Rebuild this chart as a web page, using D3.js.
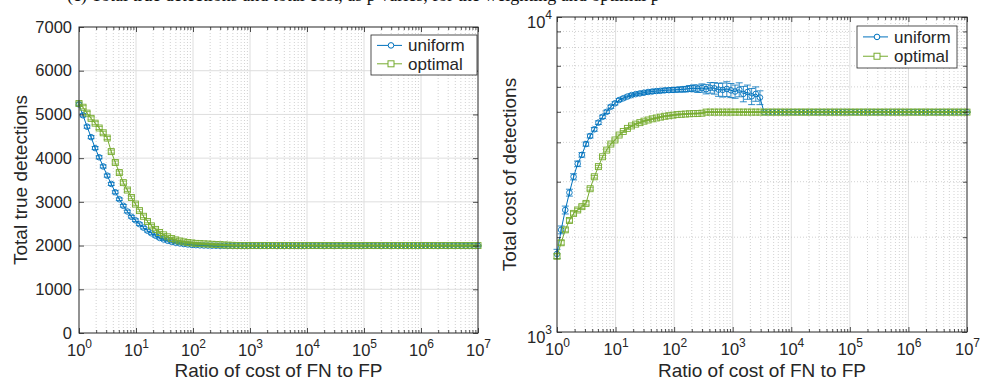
<!DOCTYPE html>
<html>
<head>
<meta charset="utf-8">
<script src="https://cdn.jsdelivr.net/npm/d3@7"></script>
<style>
	body { margin: 0; background: #fff; }
	svg text { font-family: "Liberation Sans", Arial, Helvetica, sans-serif; fill: #262626; }
</style>
</head>
<body>
<div id="graphic"></div>
<script>

// sample grid: 100 log spaced cost ratios from 10^0 to 10^7
const ratioExp = d3.range(100).map((i) => 7 * i / 99);
const ratios = ratioExp.map((e) => Math.pow(10, e));

// left panel - total true detections
const leftUniform = [
	5230, 4980, 4720, 4480, 4230, 4020, 3810, 3600, 3410, 3220,
	3060, 2910, 2780, 2660, 2580, 2490, 2410, 2340, 2280, 2225,
	2175, 2140, 2110, 2085, 2065, 2050, 2035, 2025, 2015, 2010,
	2005, 2002, 2000, 1998, 1997, 1996, 1996, 1995, 1995, 1995,
	1995, 1994, 1996, 1995, 1995, 1994, 1995, 1996, 1995, 1995,
	1994, 1995, 1995, 1996, 1995, 1994, 1995, 1995, 1995, 1996,
	1995, 1995, 1994, 1995, 1995, 1995, 1996, 1995, 1995, 1994,
	1995, 1995, 1995, 1995, 1996, 1995, 1995, 1994, 1995, 1995,
	1995, 1995, 1995, 1996, 1995, 1995, 1995, 1995, 1994, 1995,
	1995, 1995, 1995, 1995, 1995, 1996, 1995, 1995, 1995, 1995
];
const leftOptimal = [
	5250, 5165, 5030, 4910, 4800, 4690, 4580, 4460, 4150, 3900,
	3670, 3440, 3270, 3100, 2950, 2800, 2670, 2550, 2450, 2370,
	2300, 2245, 2200, 2160, 2130, 2105, 2085, 2070, 2060, 2050,
	2045, 2040, 2035, 2030, 2025, 2020, 2015, 2010, 2006, 2003,
	2001, 2000, 2000, 2001, 2000, 2000, 2000, 2001, 2000, 2000,
	2000, 2000, 2001, 2000, 2000, 2000, 2000, 2000, 2001, 2000,
	2000, 2000, 2000, 2000, 2000, 2001, 2000, 2000, 2000, 2000,
	2000, 2000, 2001, 2000, 2000, 2000, 2000, 2000, 2000, 2001,
	2000, 2000, 2000, 2000, 2000, 2000, 2001, 2000, 2000, 2000,
	2000, 2000, 2000, 2000, 2001, 2000, 2000, 2000, 2000, 2000
];
const leftUniformErr = [
	35, 35, 35, 35, 35, 35, 35, 35, 35, 35,
	30, 30, 30, 30, 30, 30, 30, 30, 30, 30,
	25, 25, 25, 25, 25, 20, 20, 20, 20, 20,
	15, 15, 15, 15, 15, 12, 12, 12, 12, 12,
	12, 12, 12, 12, 12, 12, 12, 12, 12, 12,
	12, 12, 12, 12, 12, 12, 12, 12, 12, 12,
	12, 12, 12, 12, 12, 12, 12, 12, 12, 12,
	12, 12, 12, 12, 12, 12, 12, 12, 12, 12,
	12, 12, 12, 12, 12, 12, 12, 12, 12, 12,
	12, 12, 12, 12, 12, 12, 12, 12, 12, 12
];
const leftOptimalErr = [
	35, 35, 35, 35, 35, 35, 35, 35, 35, 35,
	35, 35, 30, 30, 30, 30, 30, 30, 30, 30,
	25, 25, 25, 25, 25, 20, 20, 20, 20, 20,
	15, 15, 15, 15, 15, 12, 12, 12, 12, 12,
	12, 12, 12, 12, 12, 12, 12, 12, 12, 12,
	12, 12, 12, 12, 12, 12, 12, 12, 12, 12,
	12, 12, 12, 12, 12, 12, 12, 12, 12, 12,
	12, 12, 12, 12, 12, 12, 12, 12, 12, 12,
	12, 12, 12, 12, 12, 12, 12, 12, 12, 12,
	12, 12, 12, 12, 12, 12, 12, 12, 12, 12
];

// right panel - total cost of detections
const rightUniform = [
	1770, 2110, 2440, 2770, 3110, 3420, 3650, 3950, 4190, 4400,
	4620, 4820, 5000, 5190, 5320, 5450, 5520, 5590, 5650, 5690,
	5720, 5750, 5780, 5800, 5820, 5830, 5850, 5860, 5870, 5880,
	5890, 5900, 5930, 5940, 5920, 5950, 5900, 5960, 5940, 5880,
	5870, 5910, 5850, 5800, 5880, 5700, 5780, 5600, 5700, 5550,
	4990, 4990, 4990, 4990, 4990, 4990, 4990, 4990, 4990, 4990,
	4990, 4990, 4990, 4990, 4990, 4990, 4990, 4990, 4990, 4990,
	4990, 4990, 4990, 4990, 4990, 4990, 4990, 4990, 4990, 4990,
	4990, 4990, 4990, 4990, 4990, 4990, 4990, 4990, 4990, 4990,
	4990, 4990, 4990, 4990, 4990, 4990, 4990, 4990, 4990, 4990
];
const rightOptimal = [
	1740, 1920, 2110, 2260, 2380, 2440, 2500, 2560, 2850, 3110,
	3350, 3600, 3780, 3950, 4070, 4220, 4330, 4430, 4510, 4570,
	4620, 4670, 4710, 4750, 4780, 4810, 4840, 4860, 4880, 4900,
	4910, 4920, 4930, 4935, 4940, 4950, 4990, 4990, 4990, 4990,
	4990, 4990, 4990, 4990, 4990, 4990, 4990, 4990, 4990, 4990,
	4990, 4990, 4990, 4990, 4990, 4990, 4990, 4990, 4990, 4990,
	4990, 4990, 4990, 4990, 4990, 4990, 4990, 4990, 4990, 4990,
	4990, 4990, 4990, 4990, 4990, 4990, 4990, 4990, 4990, 4990,
	4990, 4990, 4990, 4990, 4990, 4990, 4990, 4990, 4990, 4990,
	4990, 4990, 4990, 4990, 4990, 4990, 4990, 4990, 4990, 4990
];
const rightUniformErr = [
	60, 60, 70, 70, 70, 70, 60, 60, 60, 60,
	60, 60, 60, 60, 60, 60, 60, 60, 60, 60,
	70, 70, 70, 80, 80, 80, 90, 90, 100, 100,
	110, 120, 130, 150, 160, 180, 200, 230, 250, 280,
	300, 320, 300, 280, 300, 320, 300, 330, 300, 280,
	15, 15, 15, 15, 15, 15, 15, 15, 15, 15,
	15, 15, 15, 15, 15, 15, 15, 15, 15, 15,
	15, 15, 15, 15, 15, 15, 15, 15, 15, 15,
	15, 15, 15, 15, 15, 15, 15, 15, 15, 15,
	15, 15, 15, 15, 15, 15, 15, 15, 15, 15
];
const rightOptimalErr = [
	30, 30, 30, 30, 30, 30, 30, 30, 30, 30,
	30, 30, 30, 30, 30, 30, 30, 30, 30, 30,
	20, 20, 20, 20, 20, 20, 20, 20, 20, 20,
	15, 15, 15, 15, 15, 15, 15, 15, 15, 15,
	15, 15, 15, 15, 15, 15, 15, 15, 15, 15,
	15, 15, 15, 15, 15, 15, 15, 15, 15, 15,
	15, 15, 15, 15, 15, 15, 15, 15, 15, 15,
	15, 15, 15, 15, 15, 15, 15, 15, 15, 15,
	15, 15, 15, 15, 15, 15, 15, 15, 15, 15,
	15, 15, 15, 15, 15, 15, 15, 15, 15, 15
];

// tick values
const xDecades = [1, 1e1, 1e2, 1e3, 1e4, 1e5, 1e6, 1e7];
const xMinor = [];
for (let d = 0; d < 7; d++) {
	for (let k = 2; k <= 9; k++) xMinor.push(k * Math.pow(10, d));
}
const leftYTicks = [0, 1000, 2000, 3000, 4000, 5000, 6000, 7000];
const rightYTicks = [1000, 10000];
const rightYMinor = [2000, 3000, 4000, 5000, 6000, 7000, 8000, 9000];

const seriesNames = ['uniform', 'optimal'];
const colours = ['#0072BD', '#77AC30'];

const ink = '#262626';
const svg = d3.select('#graphic').append('svg').attr('width', 981).attr('height', 382);

// caption of the figure above, mostly cut off by the crop (only its lower edge shows)
svg.append('text')
	.attr('x', 67)
	.attr('y', 1)
	.style('font-family', '"Liberation Serif", "Times New Roman", serif')
	.style('font-size', '18px')
	.style('fill', '#111')
	.text('(c) Total true detections and total cost, as p varies, for the weighting and optimal p');

function powerLabels(sel, supDy) {
	sel.each(function (d) {
		const t = d3.select(this).text(null);
		t.append('tspan').text('10');
		t.append('tspan')
			.attr('dy', supDy)
			.style('font-size', '12px')
			.text(Math.round(Math.log10(d)));
	});
}

function drawPanel(p) {

	const x = d3.scaleLog().domain([1, 1e7]).range([p.left, p.right]);
	const y = (p.yType === 'log' ? d3.scaleLog() : d3.scaleLinear())
		.domain(p.yDomain)
		.range([p.bottom, p.top]);

	const g = svg.append('g');

	// grid lines
	g.append('g')
		.selectAll('line')
		.data(xMinor)
		.join('line')
		.attr('x1', (d) => x(d)).attr('x2', (d) => x(d))
		.attr('y1', p.top).attr('y2', p.bottom)
		.attr('stroke', '#bdbdbd')
		.attr('stroke-width', 0.7)
		.attr('stroke-dasharray', '1,2');

	g.append('g')
		.selectAll('line')
		.data(xDecades.slice(1, -1))
		.join('line')
		.attr('x1', (d) => x(d)).attr('x2', (d) => x(d))
		.attr('y1', p.top).attr('y2', p.bottom)
		.attr('stroke', '#dedede')
		.attr('stroke-width', 1);

	if (p.yType === 'log') {
		g.append('g')
			.selectAll('line')
			.data(rightYMinor)
			.join('line')
			.attr('x1', p.left).attr('x2', p.right)
			.attr('y1', (d) => y(d)).attr('y2', (d) => y(d))
			.attr('stroke', '#bdbdbd')
			.attr('stroke-width', 0.7)
			.attr('stroke-dasharray', '1,2');
	} else {
		g.append('g')
			.selectAll('line')
			.data(p.yTicks.slice(1, -1))
			.join('line')
			.attr('x1', p.left).attr('x2', p.right)
			.attr('y1', (d) => y(d)).attr('y2', (d) => y(d))
			.attr('stroke', '#dedede')
			.attr('stroke-width', 1);
	}

	// series, uniform first so optimal sits on top
	p.series.forEach((s, si) => {
		const pts = ratios.map((r, i) => ({ r: r, v: s.values[i], e: s.err[i] }));
		const col = colours[si];
		const sg = g.append('g').attr('stroke', col).attr('fill', 'none');

		// error bars
		const eb = sg.append('g').attr('stroke-width', 0.8);
		eb.selectAll('line.stem')
			.data(pts)
			.join('line')
			.attr('class', 'stem')
			.attr('x1', (d) => x(d.r)).attr('x2', (d) => x(d.r))
			.attr('y1', (d) => y(d.v - d.e)).attr('y2', (d) => y(d.v + d.e));
		eb.selectAll('line.cap-hi')
			.data(pts)
			.join('line')
			.attr('class', 'cap-hi')
			.attr('x1', (d) => x(d.r) - 3.5).attr('x2', (d) => x(d.r) + 3.5)
			.attr('y1', (d) => y(d.v + d.e)).attr('y2', (d) => y(d.v + d.e));
		eb.selectAll('line.cap-lo')
			.data(pts)
			.join('line')
			.attr('class', 'cap-lo')
			.attr('x1', (d) => x(d.r) - 3.5).attr('x2', (d) => x(d.r) + 3.5)
			.attr('y1', (d) => y(d.v - d.e)).attr('y2', (d) => y(d.v - d.e));

		sg.append('path')
			.datum(pts)
			.attr('stroke-width', 1)
			.attr('d', d3.line().x((d) => x(d.r)).y((d) => y(d.v)));

		if (si === 0) {
			sg.selectAll('circle')
				.data(pts)
				.join('circle')
				.attr('cx', (d) => x(d.r))
				.attr('cy', (d) => y(d.v))
				.attr('r', 2.8)
				.attr('stroke-width', 0.9);
		} else {
			sg.selectAll('rect')
				.data(pts)
				.join('rect')
				.attr('x', (d) => x(d.r) - 3)
				.attr('y', (d) => y(d.v) - 3)
				.attr('width', 6)
				.attr('height', 6)
				.attr('stroke-width', 0.9);
		}
	});

	// box
	g.append('rect')
		.attr('x', p.left).attr('y', p.top)
		.attr('width', p.right - p.left).attr('height', p.bottom - p.top)
		.attr('fill', 'none')
		.attr('stroke', ink)
		.attr('stroke-width', 1);

	const noDomain = (a) => a.select('.domain').remove();

	// x axis, ticks pointing inward
	const xb = g.append('g')
		.attr('transform', `translate(0,${p.bottom})`)
		.call(d3.axisBottom(x).tickValues(xDecades).tickSizeInner(-5).tickSizeOuter(0).tickFormat(() => ''))
		.call(noDomain);
	xb.selectAll('text')
		.attr('y', 23)
		.attr('dy', null)
		.style('font-size', '16.5px')
		.call(powerLabels, -8);

	g.append('g')
		.attr('transform', `translate(0,${p.bottom})`)
		.call(d3.axisBottom(x).tickValues(xMinor).tickSizeInner(-3).tickSizeOuter(0).tickFormat(''))
		.call(noDomain);
	g.append('g')
		.attr('transform', `translate(0,${p.top})`)
		.call(d3.axisTop(x).tickValues(xDecades).tickSizeInner(-5).tickSizeOuter(0).tickFormat(''))
		.call(noDomain);
	g.append('g')
		.attr('transform', `translate(0,${p.top})`)
		.call(d3.axisTop(x).tickValues(xMinor).tickSizeInner(-3).tickSizeOuter(0).tickFormat(''))
		.call(noDomain);

	// y axis
	const yl = g.append('g')
		.attr('transform', `translate(${p.left},0)`)
		.call(d3.axisLeft(y).tickValues(p.yTicks).tickSizeInner(-5).tickSizeOuter(0).tickPadding(p.yPad)
			.tickFormat(p.yType === 'log' ? () => '' : d3.format('d')))
		.call(noDomain);
	yl.selectAll('text').style('font-size', '16.5px');
	if (p.yType === 'log') {
		yl.selectAll('text').attr('dy', null).attr('y', 10).call(powerLabels, -9);
	}
	g.append('g')
		.attr('transform', `translate(${p.right},0)`)
		.call(d3.axisRight(y).tickValues(p.yTicks).tickSizeInner(-5).tickSizeOuter(0).tickFormat(''))
		.call(noDomain);
	if (p.yType === 'log') {
		g.append('g')
			.attr('transform', `translate(${p.left},0)`)
			.call(d3.axisLeft(y).tickValues(rightYMinor).tickSizeInner(-4).tickSizeOuter(0).tickFormat(''))
			.call(noDomain);
		g.append('g')
			.attr('transform', `translate(${p.right},0)`)
			.call(d3.axisRight(y).tickValues(rightYMinor).tickSizeInner(-4).tickSizeOuter(0).tickFormat(''))
			.call(noDomain);
	}
	g.selectAll('.tick line').attr('stroke', ink).attr('stroke-width', 0.8);

	// axis titles
	g.append('text')
		.attr('x', (p.left + p.right) / 2)
		.attr('y', 377)
		.attr('text-anchor', 'middle')
		.style('font-size', '19px')
		.text('Ratio of cost of FN to FP');

	g.append('text')
		.attr('transform', `translate(${p.yLabelX},${(p.top + p.bottom) / 2}) rotate(-90)`)
		.attr('text-anchor', 'middle')
		.style('font-size', '19px')
		.text(p.yLabel);

	// legend
	const lg = g.append('g').attr('transform', `translate(${p.legend.x},${p.legend.y})`);
	lg.append('rect')
		.attr('width', p.legend.w)
		.attr('height', p.legend.h)
		.attr('fill', '#fff')
		.attr('stroke', ink)
		.attr('stroke-width', 0.8);
	const rowY = [p.legend.h * 0.26, p.legend.h * 0.72];
	seriesNames.forEach((name, i) => {
		const row = lg.append('g').attr('transform', `translate(0,${rowY[i]})`);
		row.append('line')
			.attr('x1', 6).attr('x2', 31)
			.attr('stroke', colours[i])
			.attr('stroke-width', 1);
		if (i === 0) {
			row.append('circle').attr('cx', 20).attr('r', 2.8)
				.attr('fill', '#fff').attr('stroke', colours[i]);
		} else {
			row.append('rect').attr('x', 17).attr('y', -3).attr('width', 6).attr('height', 6)
				.attr('fill', '#fff').attr('stroke', colours[i]);
		}
		row.append('text')
			.attr('x', 37)
			.attr('y', 6)
			.style('font-size', '17px')
			.text(name);
	});
}

drawPanel({
	left: 79, right: 478, top: 27, bottom: 333,
	yType: 'linear', yDomain: [0, 7000], yTicks: leftYTicks, yPad: 7,
	yLabel: 'Total true detections', yLabelX: 27,
	series: [
		{ values: leftUniform, err: leftUniformErr },
		{ values: leftOptimal, err: leftOptimalErr }
	],
	legend: { x: 371, y: 35, w: 106, h: 40 }
});

drawPanel({
	left: 557, right: 967, top: 17, bottom: 332,
	yType: 'log', yDomain: [1000, 10000], yTicks: rightYTicks, yPad: 5,
	yLabel: 'Total cost of detections', yLabelX: 516,
	series: [
		{ values: rightUniform, err: rightUniformErr },
		{ values: rightOptimal, err: rightOptimalErr }
	],
	legend: { x: 857, y: 26, w: 100, h: 42 }
});

</script>
</body>
</html>
